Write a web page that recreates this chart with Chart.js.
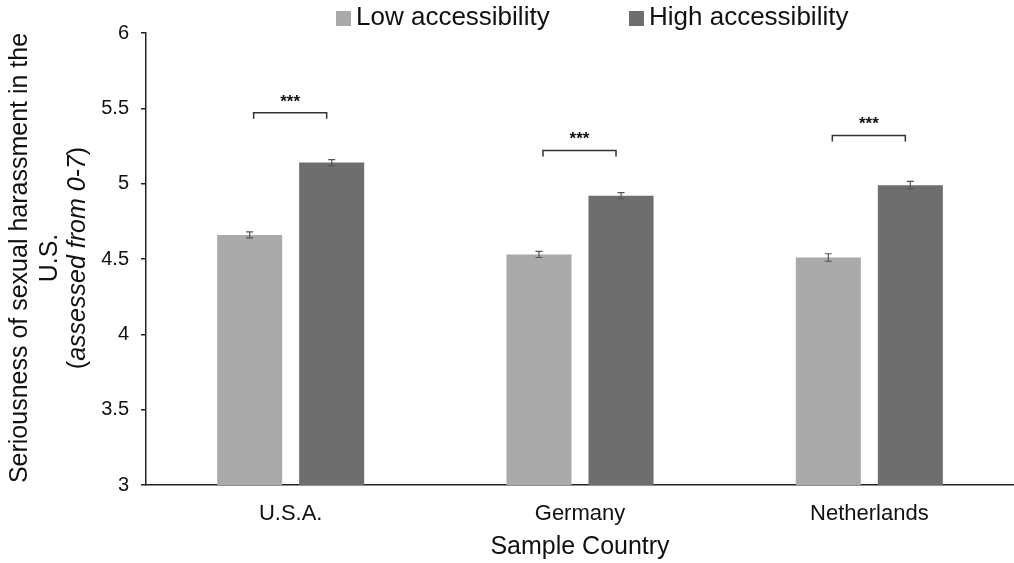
<!DOCTYPE html>
<html>
<head>
    <title>Seriousness of sexual harassment</title>
    <script src="https://cdn.jsdelivr.net/npm/chart.js"></script>
    <style>
        html, body { margin: 0; padding: 0; background: #fff; }
        #wrap { width: 1014px; height: 563px; }
    </style>
</head>
<body>
    <div id="wrap"><canvas id="myChart"></canvas></div>

    <script>
        // data
        var countries = ["U.S.A.", "Germany", "Netherlands"];
        var lowMeans = [4.66, 4.53, 4.51];
        var highMeans = [5.14, 4.92, 4.99];
        var lowErr = [0.02, 0.02, 0.025];
        var highErr = [0.02, 0.02, 0.025];
        var bracketLevels = [5.47, 5.22, 5.32];
        var sigLabels = ["***", "***", "***"];
        var seriesNames = ["Low accessibility", "High accessibility"];
        var seriesColors = ["#aaaaaa", "#6e6e6e"];

        var font = "'Liberation Sans', Arial, Helvetica, sans-serif";

        // error bars, significance brackets, legend and y title
        var extras = {
            id: "extras",
            afterDatasetsDraw: function(chart) {
                var ctx = chart.ctx;
                var y = chart.scales.y;
                var errs = [lowErr, highErr];
                ctx.save();
                ctx.strokeStyle = "#555";
                ctx.lineWidth = 1.2;
                chart.data.datasets.forEach(function(ds, di) {
                    chart.getDatasetMeta(di).data.forEach(function(bar, i) {
                        var top = y.getPixelForValue(ds.data[i] + errs[di][i]);
                        var bot = y.getPixelForValue(ds.data[i] - errs[di][i]);
                        ctx.beginPath();
                        ctx.moveTo(bar.x, top); ctx.lineTo(bar.x, bot);
                        ctx.moveTo(bar.x - 3.5, top); ctx.lineTo(bar.x + 3.5, top);
                        ctx.moveTo(bar.x - 3.5, bot); ctx.lineTo(bar.x + 3.5, bot);
                        ctx.stroke();
                    });
                });

                // brackets
                var low = chart.getDatasetMeta(0).data;
                var high = chart.getDatasetMeta(1).data;
                ctx.strokeStyle = "#333";
                ctx.lineWidth = 1.5;
                ctx.fillStyle = "#111";
                ctx.font = "bold 17px " + font;
                ctx.textAlign = "center";
                ctx.textBaseline = "middle";
                for (var i = 0; i < countries.length; i++) {
                    var by = y.getPixelForValue(bracketLevels[i]);
                    var x1 = low[i].x + 4, x2 = high[i].x - 5;
                    ctx.beginPath();
                    ctx.moveTo(x1, by + 6); ctx.lineTo(x1, by); ctx.lineTo(x2, by); ctx.lineTo(x2, by + 6);
                    ctx.stroke();
                    ctx.fillText(sigLabels[i], (x1 + x2) / 2, by - 11);
                }

                // legend
                ctx.font = "26px " + font;
                ctx.textAlign = "left";
                var lx = [336, 629];
                chart.data.datasets.forEach(function(ds, di) {
                    ctx.fillStyle = ds.backgroundColor;
                    ctx.fillRect(lx[di], 11, 15, 15);
                    ctx.fillStyle = "#111";
                    ctx.fillText(ds.label, lx[di] + 20, 18);
                });

                // y axis title (three lines, last partly italic)
                ctx.translate(20, 258);
                ctx.rotate(-Math.PI / 2);
                ctx.textAlign = "center";
                ctx.fillStyle = "#111";
                ctx.font = "25px " + font;
                ctx.fillText("Seriousness of sexual harassment in the", 0, 0);
                ctx.fillText("U.S.", 0, 30);
                var a = "(", b = "assessed from 0-7", c = ")";
                var wa = ctx.measureText(a).width, wc = ctx.measureText(c).width;
                ctx.font = "italic 25px " + font;
                var wb = ctx.measureText(b).width;
                var sx = -(wa + wb + wc) / 2;
                ctx.textAlign = "left";
                ctx.font = "25px " + font;
                ctx.fillText(a, sx, 58);
                ctx.font = "italic 25px " + font;
                ctx.fillText(b, sx + wa, 58);
                ctx.font = "25px " + font;
                ctx.fillText(c, sx + wa + wb, 58);
                ctx.restore();
            }
        };

        var ctx = document.getElementById("myChart").getContext("2d");
        new Chart(ctx, {
            type: "bar",
            data: {
                labels: countries,
                datasets: [
                    { label: seriesNames[0], data: lowMeans, backgroundColor: seriesColors[0] },
                    { label: seriesNames[1], data: highMeans, backgroundColor: seriesColors[1] }
                ]
            },
            options: {
                responsive: true,
                maintainAspectRatio: false,
                animation: false,
                categoryPercentage: 0.567,
                barPercentage: 0.793,
                layout: { padding: { top: 33, right: 0, left: 0, bottom: 0 } },
                plugins: {
                    legend: { display: false },
                    tooltip: { enabled: false }
                },
                scales: {
                    x: {
                        grid: { display: false, drawTicks: false },
                        border: { color: "#222", width: 1.5 },
                        ticks: { color: "#111", font: { family: font, size: 22 }, padding: 16 },
                        title: { display: true, text: "Sample Country", color: "#111", font: { family: font, size: 25 }, padding: { top: 2, bottom: 1 } },
                        afterFit: function(s) { s.height = 78; }
                    },
                    y: {
                        min: 3,
                        max: 6,
                        ticks: {
                            stepSize: 0.5, color: "#111", font: { family: font, size: 20 }, padding: 12,
                            callback: function(v) { return String(+v.toFixed(1)); }
                        },
                        grid: { drawOnChartArea: false, drawTicks: true, tickLength: 5, color: "#222", lineWidth: 1.5 },
                        border: { color: "#222", width: 1.5 },
                        afterFit: function(s) { s.width = 146; }
                    }
                }
            },
            plugins: [extras]
        });
    </script>
</body>
</html>
